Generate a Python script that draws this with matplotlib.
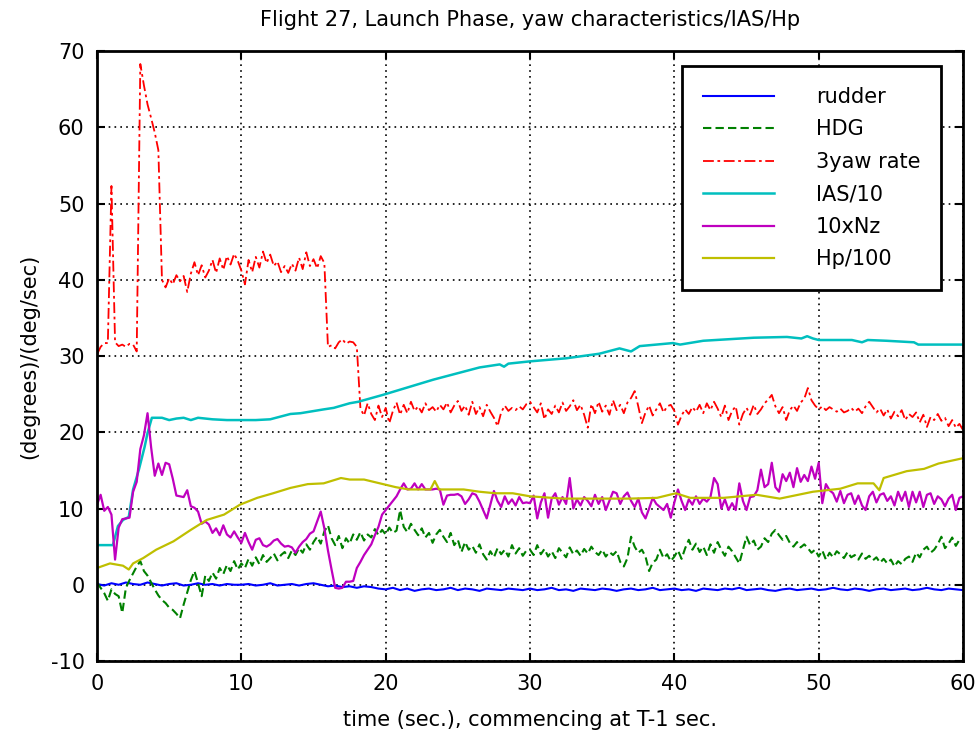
import numpy as np
from matplotlib import pyplot as plt

# Flight 27 launch phase: yaw characteristics, IAS and pressure altitude
# Noisy channels are read off at 0.25 s, smoother ones at their own break points

t_fast = np.arange(0, 60.01, 0.25)
t_rud = np.arange(0, 60.01, 0.5)

yaw_rate = [
    30.2, 31.2, 31.7, 31.7, 52.3, 31.8, 31.3, 31.5, 31.2, 31.6, 31.5, 30.6, 68.3, 65.5, 63.0, 61.2, 59.3, 57.0, 40.0, 39.0,
    40.2, 39.4, 40.6, 39.8, 40.5, 38.4, 40.8, 42.3, 40.6, 41.9, 40.3, 41.2, 42.6, 40.9, 42.8, 41.3, 43.1, 42.0, 43.4, 42.5,
    41.2, 39.4, 42.6, 41.0, 43.0, 41.6, 43.7, 42.2, 43.3, 41.8, 42.4, 41.0, 41.8, 40.9, 42.1, 41.2, 42.9, 41.4, 43.6, 41.8,
    42.7, 41.5, 43.1, 42.2, 31.2, 31.4, 31.0, 31.8, 32.2, 31.6, 31.9, 31.8, 31.2, 23.1, 22.2, 23.8, 22.4, 21.6, 23.5, 22.0,
    23.2, 21.2, 22.8, 23.9, 22.3, 23.6, 22.5, 24.0, 22.8, 23.4, 22.6, 23.8, 22.9, 23.3, 22.7, 23.6, 23.0, 23.9, 22.6, 23.5,
    24.1, 22.8, 23.5, 22.3, 24.0, 22.4, 23.3, 22.1, 23.6, 22.7, 21.9, 20.8, 22.6, 23.5, 22.8, 23.2, 22.9, 23.4, 23.0, 23.7,
    24.0, 23.3, 22.6, 23.8, 21.7, 23.0, 22.4, 23.5, 22.6, 23.9, 22.8, 23.4, 24.2, 22.9, 23.6, 22.3, 20.6, 23.7, 22.5, 24.0,
    22.7, 23.5, 22.3, 24.2, 22.9, 23.6, 22.5, 23.9, 24.5, 25.4, 23.4, 21.2, 22.6, 23.5, 22.2, 23.0, 23.8, 22.6, 23.4, 23.6,
    22.8, 21.0, 22.2, 23.0, 22.4, 23.3, 22.7, 23.6, 22.5, 23.8, 22.9, 24.0, 23.1, 22.0, 23.5, 21.6, 22.8, 23.4, 21.0, 22.4,
    23.2, 22.3, 23.6, 22.4, 23.0, 23.8, 24.3, 24.9, 23.4, 22.5, 23.3, 21.6, 22.9, 23.5, 22.8, 23.9, 24.4, 25.8, 24.2, 23.5,
    23.0, 23.4, 22.9, 23.3, 23.0, 22.7, 23.1, 22.6, 22.8, 23.2, 22.7, 23.1, 22.5, 23.4, 24.0, 23.3, 22.6, 23.1, 22.2, 23.0,
    21.8, 22.7, 22.1, 22.9, 21.6, 22.4, 22.0, 22.6, 21.3, 22.3, 20.7, 22.0, 21.6, 22.4, 21.5, 21.9, 20.8, 21.6, 20.6, 21.1,
    20.3,
]

hdg = [
    0.3, -0.4, -1.1, -2.1, -0.6, -1.2, -1.5, -3.7, -0.4, 0.6, 1.5, 2.4, 3.1, 1.8, 1.2, 0.3, -0.6, -1.4, -2.0, -2.4,
    -3.0, -3.3, -3.8, -4.4, -2.6, -1.0, 0.6, 1.8, 0.2, -1.5, 1.2, 0.5, 1.6, 0.8, 2.2, 1.4, 2.6, 1.8, 3.1, 2.0,
    2.8, 2.2, 3.4, 2.5, 3.6, 2.7, 3.9, 3.0, 3.5, 4.1, 3.2, 3.9, 4.3, 3.5, 4.5, 3.9, 4.8, 4.2, 5.3, 4.6,
    5.6, 6.3, 5.4, 7.0, 7.8, 6.1, 5.2, 6.4, 4.8, 6.1, 5.4, 6.6, 5.9, 6.9, 5.8, 6.6, 6.2, 7.3, 6.5, 7.2,
    6.6, 7.5, 6.8, 7.1, 9.8, 7.6, 6.9, 8.0, 7.2, 6.5, 7.4, 6.2, 6.8, 5.5, 6.6, 7.2, 6.3, 5.6, 6.8, 5.2,
    5.9, 4.3, 5.6, 4.6, 5.1, 4.2, 5.3, 4.0, 3.3, 4.4, 3.6, 4.8, 4.0, 4.6, 3.7, 5.2, 4.1, 4.8, 3.8, 4.5,
    4.6, 3.9, 5.2, 4.0, 4.7, 3.7, 4.4, 3.5, 4.8, 4.2, 3.6, 4.9, 4.0, 4.5, 3.8, 4.7, 4.1, 5.0, 4.3, 3.9,
    4.6, 3.7, 4.3, 3.9, 4.4, 3.0, 2.4, 3.5, 6.3, 5.0, 4.2, 4.6, 3.7, 1.8, 2.9, 3.3, 4.6, 3.5, 4.0, 3.1,
    3.7, 4.5, 3.4, 4.8, 5.9, 4.6, 5.4, 4.3, 5.0, 3.9, 5.3, 4.2, 5.6, 4.6, 3.8, 5.0, 4.4, 3.6, 2.8, 4.6,
    6.3, 5.2, 5.8, 4.6, 5.0, 6.1, 5.6, 6.7, 7.2, 6.5, 5.9, 6.4, 5.5, 5.0, 5.6, 4.9, 5.3, 4.8, 4.2, 4.6,
    3.7, 4.5, 3.3, 4.2, 3.6, 4.4, 4.0, 3.5, 4.3, 3.6, 3.9, 3.3, 4.1, 3.4, 3.8, 3.2, 3.6, 2.9, 3.4, 2.8,
    3.3, 2.4, 3.1, 2.7, 3.4, 3.7, 3.0, 4.2, 3.6, 4.6, 5.0, 4.2, 4.6, 5.3, 6.3, 4.8, 5.4, 6.2, 5.1, 5.9,
    6.1,
]

nz = [
    10.5, 11.8, 9.7, 10.2, 9.2, 3.3, 7.5, 8.6, 8.7, 8.8, 12.2, 13.5, 17.8, 19.6, 22.5, 18.0, 14.3, 15.9, 14.4, 16.0,
    15.8, 13.9, 11.7, 11.6, 11.5, 12.4, 10.3, 10.1, 9.6, 8.0, 8.3, 7.9, 6.8, 7.4, 6.5, 7.8, 6.6, 6.2, 7.0, 6.2,
    5.5, 6.8, 5.6, 4.6, 5.9, 6.1, 5.2, 5.0, 5.3, 5.8, 6.0, 5.4, 5.0, 5.1, 4.9, 4.2, 5.0, 5.6, 6.0, 6.7,
    7.0, 8.3, 9.6, 7.4, 4.5, 2.0, -0.4, -0.5, -0.4, 0.4, 0.4, 0.5, 2.2, 3.0, 3.9, 4.6, 5.3, 6.5, 7.6, 9.2,
    9.8, 10.4, 11.0, 11.6, 12.5, 13.3, 12.5, 12.6, 13.3, 12.5, 13.2, 12.5, 12.5, 12.5, 12.6, 12.5, 10.5, 11.7, 11.8, 11.8,
    11.9, 11.6, 10.6, 11.2, 12.0, 11.8, 10.9, 9.8, 8.7, 10.5, 12.3, 11.0, 10.2, 11.6, 10.6, 11.2, 10.4, 11.5, 10.7, 10.8,
    10.7, 11.7, 8.7, 10.8, 12.0, 8.8, 11.3, 12.0, 10.5, 11.5, 10.6, 14.0, 10.0, 11.2, 10.4, 11.5, 11.0, 10.3, 11.8, 10.6,
    11.5, 9.8, 11.0, 12.2, 12.0, 10.6, 11.6, 12.1, 11.0, 10.2, 11.3, 9.5, 8.7, 10.0, 11.4, 10.6, 10.2, 9.8, 10.6, 8.8,
    10.8, 12.5, 11.0, 9.8, 11.2, 10.5, 11.6, 10.6, 11.3, 10.9, 11.5, 14.0, 13.2, 10.0, 11.2, 9.8, 10.7, 9.8, 13.3, 11.0,
    9.8, 11.5, 11.6, 12.4, 15.1, 12.8, 13.2, 16.0, 12.8, 12.2, 14.5, 13.6, 14.7, 12.8, 15.3, 13.5, 14.4, 13.6, 15.5, 13.9,
    16.0, 10.7, 13.2, 12.4, 12.0, 10.9, 12.3, 10.7, 11.8, 12.0, 10.6, 11.7, 10.4, 9.8, 11.6, 12.2, 10.8, 11.8, 12.0, 11.0,
    11.6, 10.4, 12.2, 11.0, 12.2, 10.2, 12.2, 10.8, 12.2, 10.2, 11.8, 12.0, 10.6, 11.6, 11.2, 10.3, 11.3, 11.8, 9.8, 11.4,
    11.6,
]

rudder = [
    0.1, -0.1, 0.2, 0.0, 0.3, 0.1, 0.0, 0.3, 0.1, -0.1, 0.1, 0.2, -0.1, 0.0, 0.2, 0.0, 0.1, -0.1, 0.1, 0.0,
    0.0, 0.1, -0.1, 0.0, 0.2, -0.1, 0.0, 0.1, -0.1, 0.1, 0.2, 0.0, -0.2, -0.1, -0.3, -0.2, -0.4, -0.2, -0.3, -0.5,
    -0.6, -0.4, -0.7, -0.5, -0.8, -0.6, -0.5, -0.7, -0.6, -0.4, -0.7, -0.5, -0.6, -0.8, -0.5, -0.6, -0.7, -0.5, -0.6, -0.7,
    -0.5, -0.7, -0.6, -0.4, -0.7, -0.6, -0.8, -0.5, -0.6, -0.7, -0.5, -0.6, -0.8, -0.6, -0.5, -0.7, -0.6, -0.4, -0.7, -0.6,
    -0.5, -0.7, -0.6, -0.8, -0.5, -0.6, -0.7, -0.5, -0.6, -0.4, -0.7, -0.6, -0.5, -0.7, -0.8, -0.6, -0.5, -0.7, -0.6, -0.5,
    -0.7, -0.6, -0.4, -0.6, -0.7, -0.5, -0.6, -0.8, -0.6, -0.5, -0.7, -0.6, -0.5, -0.7, -0.6, -0.4, -0.6, -0.7, -0.5, -0.6,
    -0.7,
]

t_ias = [0, 1.1, 1.45, 1.8, 2.2, 2.5, 2.9, 3.3, 3.5, 3.8, 4.5, 5.0, 5.5, 6.0, 6.5, 7.0, 7.5, 8.0, 9.0, 10.0, 11.0, 12.0,
         13.4, 14.1, 15.7, 16.4, 17.5, 18.1, 19.8, 23.3, 26.5, 27.9, 28.2, 28.5, 30.0, 32.5, 34.8, 36.2, 37.0, 37.6,
         39.9, 40.4, 42.0, 45.5, 47.8, 48.8, 49.2, 49.6, 50.0, 52.3, 53.0, 53.4, 54.7, 56.6, 56.9, 58.0, 60.0]
ias = [5.2, 5.2, 7.7, 8.5, 8.9, 12.5, 15.1, 18.1, 19.9, 21.9, 21.9, 21.6, 21.8, 21.9, 21.6, 21.9, 21.8, 21.7, 21.6, 21.6,
       21.6, 21.7, 22.4, 22.5, 23.0, 23.2, 23.8, 24.0, 24.9, 26.9, 28.5, 28.9, 28.6, 29.0, 29.3, 29.7, 30.3, 31.0, 30.6,
       31.3, 31.7, 31.5, 32.0, 32.4, 32.5, 32.3, 32.6, 32.3, 32.1, 32.1, 31.8, 32.1, 32.0, 31.8, 31.5, 31.5, 31.5]

t_hp = [0, 0.9, 1.8, 2.2, 2.5, 3.2, 4.1, 5.3, 6.5, 7.6, 8.8, 9.9, 11.1, 12.2, 13.4, 14.6, 15.7, 16.9, 17.5, 18.5,
        19.6, 20.7, 21.6, 23.1, 23.4, 23.7, 25.4, 26.5, 27.6, 28.8, 30.0, 32.3, 34.6, 36.9, 38.8, 40.1, 41.1, 43.4,
        45.7, 47.3, 49.6, 51.5, 52.7, 53.8, 54.2, 54.5, 56.1, 57.3, 58.3, 60.0]
hp = [2.2, 2.8, 2.5, 2.0, 2.8, 3.5, 4.6, 5.7, 7.2, 8.5, 9.2, 10.5, 11.4, 12.0, 12.7, 13.2, 13.3, 14.0, 13.8, 13.8,
      13.3, 12.8, 12.5, 12.5, 13.6, 12.5, 12.5, 12.2, 12.0, 12.0, 11.6, 11.3, 11.3, 11.3, 11.4, 12.0, 11.4, 11.4,
      11.8, 11.3, 12.2, 12.6, 13.3, 13.3, 12.4, 14.0, 14.9, 15.2, 15.9, 16.6]

labels = ["rudder", "HDG", "3yaw rate", "IAS/10", "10xNz", "Hp/100"]

plt.rcParams["font.family"] = "DejaVu Sans"
plt.rcParams["axes.unicode_minus"] = False

fig = plt.figure(figsize=(9.77, 7.33), dpi=100)
ax = fig.add_axes([0.0993, 0.0982, 0.8864, 0.8322])

ax.plot(t_rud, rudder, color="#0000ff", lw=1.5, label=labels[0])
ax.plot(t_fast, hdg, color="#008000", lw=1.5, ls=(0, (4, 2)), label=labels[1])
ax.plot(t_fast, yaw_rate, color="#ff0000", lw=1.3, ls=(0, (6, 2, 1.5, 2)), label=labels[2])
ax.plot(t_ias, ias, color="#00bfbf", lw=1.8, label=labels[3])
ax.plot(t_fast, nz, color="#bf00bf", lw=1.6, label=labels[4])
ax.plot(t_hp, hp, color="#bfbf00", lw=1.6, label=labels[5])

ax.set_xlim(0, 60)
ax.set_ylim(-10, 70)
ax.set_xticks(np.arange(0, 61, 10))
ax.set_yticks(np.arange(-10, 71, 10))
ax.grid(True, color="black", ls=(0, (1, 2.5)), lw=1.2)
ax.tick_params(direction="in", length=6, width=1.5, top=True, right=True, labelsize=15, pad=9)
for s in ax.spines.values():
    s.set_linewidth(2)

ax.set_title("Flight 27, Launch Phase, yaw characteristics/IAS/Hp", fontsize=15, pad=18)
ax.set_xlabel("time (sec.), commencing at T-1 sec.", fontsize=15, labelpad=12)
ax.set_ylabel("(degrees)/(deg/sec)", fontsize=15, labelpad=8)

leg = ax.legend(loc="upper right", bbox_to_anchor=(0.9746, 0.9754), borderaxespad=0, fontsize=15,
                handlelength=3.4, handletextpad=2.0, labelspacing=0.6, borderpad=1.0,
                fancybox=False, framealpha=1, edgecolor="black")
leg.get_frame().set_linewidth(2)

fig.savefig("out.png", dpi=100)
